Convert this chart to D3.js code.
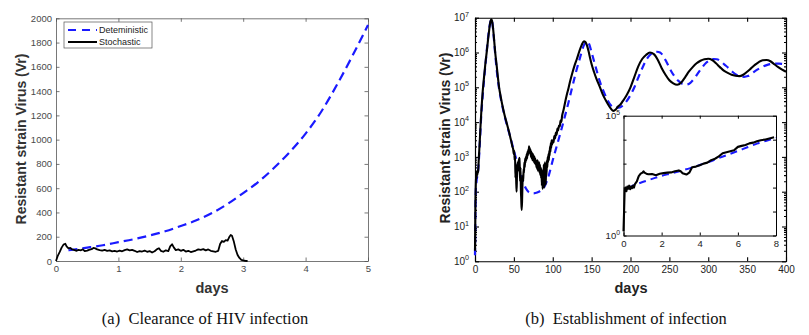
<!DOCTYPE html>
<html>
<head>
<meta charset="utf-8">
<script src="https://cdn.jsdelivr.net/npm/d3@7"></script>
<style>
  body { margin: 0; background: #fff; }
  svg { display: block; }
  text { font-family: "Liberation Sans", Arial, sans-serif; }
</style>
</head>
<body>
<svg id="fig" width="809" height="335"></svg>
<script>
// ---- panel (a): clearance, linear axes ----
const clearXTicks = [0, 1, 2, 3, 4, 5];
const clearYTicks = [0, 200, 400, 600, 800, 1000, 1200, 1400, 1600, 1800, 2000];
const clearDeterministic = [
  [0.2, 88], [0.5, 110], [0.75, 130], [1.0, 155], [1.25, 180], [1.5, 210], [1.75, 245],
  [2.0, 288], [2.25, 335], [2.5, 395], [2.75, 470], [3.0, 560], [3.25, 655], [3.5, 770],
  [3.75, 900], [4.0, 1050], [4.25, 1230], [4.5, 1450], [4.75, 1690], [5.0, 1945]
];
const clearStochastic = [
  [0, 0], [0.03, 45], [0.06, 75], [0.09, 110], [0.12, 135], [0.15, 142], [0.17, 120], [0.2, 104],
  [0.23, 108], [0.26, 95], [0.3, 90], [0.33, 84], [0.36, 92], [0.4, 88], [0.43, 96], [0.46, 82],
  [0.5, 86], [0.53, 92], [0.57, 97], [0.6, 108], [0.63, 104], [0.66, 95], [0.7, 90], [0.74, 86],
  [0.78, 92], [0.82, 84], [0.86, 88], [0.9, 80], [0.94, 84], [0.98, 78], [1.02, 86], [1.06, 80],
  [1.1, 90], [1.14, 96], [1.18, 88], [1.22, 92], [1.26, 84], [1.3, 74], [1.34, 82], [1.38, 78],
  [1.42, 86], [1.46, 76], [1.5, 82], [1.54, 70], [1.58, 80], [1.62, 98], [1.65, 105], [1.68, 84],
  [1.72, 76], [1.76, 88], [1.8, 82], [1.83, 120], [1.86, 138], [1.89, 110], [1.92, 90], [1.96, 96],
  [2.0, 84], [2.04, 92], [2.08, 78], [2.12, 84], [2.16, 74], [2.2, 80], [2.24, 86], [2.28, 96],
  [2.32, 92], [2.36, 98], [2.4, 88], [2.44, 95], [2.48, 84], [2.52, 80], [2.56, 76], [2.6, 84],
  [2.63, 140], [2.66, 165], [2.69, 158], [2.72, 172], [2.75, 168], [2.78, 200], [2.8, 214],
  [2.82, 208], [2.85, 160], [2.88, 95], [2.91, 50], [2.94, 25], [2.97, 10], [3.0, 5], [3.03, 2], [3.07, 0]
];
const legendLabels = ["Deteministic", "Stochastic"];

// ---- panel (b): establishment, log axes ----
const estabXTicks = [0, 50, 100, 150, 200, 250, 300, 350, 400];
const estabDecades = [0, 1, 2, 3, 4, 5, 6, 7];
const estabDeterministic = [
  [0, 1.5], [1, 100], [2, 200], [4, 400], [6, 2000], [8, 1.5e4], [10, 6e4], [12, 2e5], [14, 6e5],
  [16, 1.8e6], [18, 4.5e6], [20, 8e6], [21, 9e6], [22, 8e6], [24, 3e6], [26, 9e5], [28, 3e5],
  [31, 9e4], [35, 3e4], [40, 1e4], [45, 4000], [50, 1500], [55, 600], [60, 250], [65, 130],
  [70, 95], [75, 90], [80, 95], [85, 110], [90, 150], [95, 300], [100, 800], [105, 2000],
  [110, 5000], [115, 1.3e4], [120, 3.5e4], [125, 1e5], [130, 2.8e5], [135, 7e5], [140, 1.6e6],
  [144, 2.1e6], [147, 1.7e6], [150, 1e6], [155, 4e5], [160, 1.6e5], [165, 8e4], [170, 4.5e4],
  [175, 3e4], [180, 2.6e4], [185, 2.6e4], [190, 3e4], [195, 4e4], [200, 6e4], [205, 1e5],
  [210, 1.9e5], [215, 3.5e5], [220, 6e5], [225, 8.5e5], [230, 1e6], [234, 1.05e6], [238, 1e6],
  [242, 8e5], [247, 5e5], [252, 3e5], [257, 2e5], [262, 1.5e5], [267, 1.25e5], [272, 1.2e5],
  [277, 1.35e5], [282, 1.8e5], [287, 2.6e5], [292, 3.7e5], [297, 5e5], [302, 6e5], [307, 6.5e5],
  [311, 6.4e5], [316, 5.6e5], [321, 4.5e5], [326, 3.6e5], [331, 2.8e5], [336, 2.3e5],
  [341, 2.05e5], [346, 2e5], [351, 2.1e5], [356, 2.5e5], [361, 3e5], [366, 3.5e5], [371, 4e5],
  [376, 4.4e5], [381, 4.7e5], [386, 4.8e5], [391, 4.8e5], [396, 4.7e5], [400, 4.6e5]
];
const estabStochastic = [
  [0, 2], [0.5, 40], [1, 150], [1.5, 320], [2, 240], [2.5, 380], [3, 300], [3.5, 420], [4, 350],
  [4.5, 600], [5, 1000], [6, 2500], [7, 7000], [8, 1.8e4], [9, 4e4], [10, 8e4], [11, 1.4e5],
  [12, 2.4e5], [13, 4e5], [14, 6.5e5], [15, 1e6], [16, 1.6e6], [17, 2.6e6], [18, 4e6], [19, 6e6],
  [20, 8e6], [21, 9e6], [22, 8e6], [23, 5.5e6], [24, 3.3e6], [25, 1.8e6], [26, 1e6], [28, 4e5],
  [30, 1.5e5], [31, 1e5], [33, 5.5e4], [35, 3.2e4], [38, 1.6e4], [41, 9000], [44, 5000],
  [46, 3200], [47, 2600], [48, 2000], [49, 1700], [50, 1200], [50.5, 1500], [51, 800],
  [51.5, 1100], [52, 250], [52.5, 600], [53, 200], [53.5, 100], [54, 300], [54.5, 500],
  [55, 700], [55.5, 400], [56, 800], [56.3, 500], [56.6, 900], [57, 700], [57.3, 950], [57.6, 400],
  [58, 200], [58.5, 500], [59, 120], [59.5, 60], [60, 30], [60.5, 50], [61, 150], [61.5, 300],
  [62, 200], [62.5, 450], [63, 350], [63.5, 700], [64, 500], [64.5, 900], [65, 700], [65.5, 1000],
  [66, 800], [66.5, 1200], [67, 900], [67.5, 1400], [68, 1100], [68.5, 1600], [69, 1300],
  [69.5, 2000], [70, 1500], [70.5, 1800], [71, 1200], [71.5, 1600], [72, 1000], [72.5, 1400],
  [73, 900], [73.5, 1300], [74, 800], [74.5, 1200], [75, 900], [75.5, 1100], [76, 700],
  [76.5, 1000], [77, 650], [77.5, 900], [78, 600], [78.5, 800], [79, 500], [79.5, 750], [80, 450],
  [80.5, 800], [81, 400], [81.5, 650], [82, 500], [82.5, 700], [83, 350], [83.5, 600], [84, 300],
  [84.5, 500], [85, 250], [85.5, 450], [86, 150], [86.5, 400], [87, 120], [87.5, 350], [88, 200],
  [88.5, 600], [89, 130], [89.5, 400], [90, 700], [90.5, 250], [91, 160], [91.5, 500], [92, 300],
  [92.5, 800], [93, 500], [93.5, 1000], [94, 700], [94.5, 1200], [95, 800], [95.5, 1500],
  [96, 1100], [96.5, 2000], [97, 1400], [97.5, 2500], [98, 1800], [98.5, 3000], [99, 2200],
  [100, 3000], [101, 2600], [102, 4000], [103, 3400], [104, 5000], [105, 4300], [106, 6500],
  [107, 5800], [108, 8000], [109, 7500], [110, 1.1e4], [111, 1e4], [112, 1.5e4], [114, 2.3e4],
  [116, 3.8e4], [118, 6e4], [120, 9e4], [122, 1.4e5], [125, 2.5e5],
  [128, 4.2e5], [131, 6.5e5], [134, 1.05e6], [137, 1.6e6], [140, 2.1e6], [142, 2e6], [144, 1.6e6],
  [146, 1.1e6], [148, 7e5], [150, 4.6e5], [153, 2.8e5], [156, 1.8e5], [160, 1.1e5], [164, 6.5e4],
  [168, 4.3e4], [172, 3e4], [175, 2.4e4], [178, 2.1e4], [181, 2.3e4], [184, 2.8e4], [187, 3.2e4],
  [190, 4e4], [193, 5e4], [196, 6.5e4], [200, 1e5], [205, 2e5], [210, 4e5], [215, 6.5e5],
  [220, 8.5e5], [225, 1e6], [230, 9e5], [235, 6.2e5], [240, 3.6e5], [245, 2.3e5], [250, 1.6e5],
  [255, 1.3e5], [260, 1.18e5], [265, 1.35e5], [270, 1.9e5], [275, 2.8e5], [280, 3.8e5],
  [285, 4.9e5], [290, 5.8e5], [295, 6.4e5], [300, 6.6e5], [305, 6.1e5], [310, 4.9e5], [315, 3.8e5],
  [320, 3e5], [325, 2.6e5], [330, 2.3e5], [335, 2.15e5], [340, 2.1e5], [345, 2.3e5], [350, 2.8e5],
  [355, 3.5e5], [360, 4.4e5], [365, 5.3e5], [370, 6e5], [375, 6.1e5], [380, 5.6e5], [385, 4.6e5],
  [390, 3.8e5], [395, 3.2e5], [400, 2.8e5]
];

// ---- inset of panel (b): first 8 days ----
const insetXTicks = [0, 2, 4, 6, 8];
const insetDecades = [0, 1, 2, 3, 4, 5];
const insetLabelDecades = [0, 5];
const insetDeterministic = [
  [0.25, 95], [0.5, 120], [1, 170], [1.5, 230], [2, 310], [2.5, 390], [3, 500], [3.5, 650],
  [4, 880], [4.5, 1200], [5, 1700], [5.5, 2400], [6, 3400], [6.5, 4800], [7, 6800], [7.5, 9000], [8, 1.2e4]
];
const insetStochastic = [
  [0, 1.5], [0.03, 10], [0.06, 80], [0.1, 100], [0.15, 70], [0.2, 110], [0.25, 90], [0.3, 120],
  [0.35, 85], [0.4, 110], [0.45, 95], [0.5, 120], [0.55, 100], [0.6, 140], [0.7, 180], [0.8, 300],
  [0.9, 380], [1.0, 420], [1.05, 480], [1.1, 420], [1.2, 380], [1.3, 360], [1.5, 370], [1.7, 330],
  [1.9, 380], [2.1, 400], [2.3, 420], [2.5, 430], [2.7, 480], [2.9, 520], [3.0, 480], [3.1, 400],
  [3.3, 350], [3.45, 420], [3.6, 700], [3.8, 750], [4.0, 850], [4.2, 1000], [4.4, 1100],
  [4.6, 1400], [4.8, 1600], [5.0, 2000], [5.2, 2700], [5.4, 3000], [5.6, 3300], [5.8, 3600],
  [6.0, 5000], [6.2, 5500], [6.4, 6000], [6.6, 7000], [6.8, 7500], [7.0, 8500], [7.2, 9500],
  [7.4, 1e4], [7.6, 1.1e4], [7.8, 1.2e4], [7.9, 1.25e4]
];

const captions = ["(a)  Clearance of HIV infection", "(b)  Establishment of infection"];

const BLUE = "#1a1aff";
const svg = d3.select("#fig");

function boxAxes(g, x, y, o) {
  const [xa, xb] = x.range(), [ya, yb] = y.range();
  const bottom = g.append("g").attr("transform", `translate(0,${ya})`)
    .call(d3.axisBottom(x).tickValues(o.xTicks).tickSize(-o.tick).tickSizeOuter(0)
      .tickPadding(o.xPad).tickFormat(o.xFormat || d3.format("d")));
  g.append("g").attr("transform", `translate(0,${yb})`)
    .call(d3.axisTop(x).tickValues(o.xTicks).tickSize(-o.tick).tickSizeOuter(0).tickFormat(""));
  const left = g.append("g").attr("transform", `translate(${xa},0)`)
    .call(d3.axisLeft(y).tickValues(o.yTicks).tickSize(-o.tick).tickSizeOuter(0)
      .tickPadding(o.yPad).tickFormat(o.yFormat || ""));
  g.append("g").attr("transform", `translate(${xb},0)`)
    .call(d3.axisRight(y).tickValues(o.yTicks).tickSize(-o.tick).tickSizeOuter(0).tickFormat(""));
  if (o.minor) {
    g.append("g").attr("transform", `translate(${xa},0)`)
      .call(d3.axisLeft(y).tickValues(o.minor).tickSize(-o.tick / 2).tickSizeOuter(0).tickFormat(""));
    g.append("g").attr("transform", `translate(${xb},0)`)
      .call(d3.axisRight(y).tickValues(o.minor).tickSize(-o.tick / 2).tickSizeOuter(0).tickFormat(""));
  }
  g.selectAll(".domain").attr("stroke", o.line).attr("stroke-width", o.width);
  g.selectAll(".tick line").attr("stroke", o.line).attr("stroke-width", o.width);
  g.selectAll(".tick text").attr("fill", o.text).style("font-size", o.fontSize + "px");
  return { bottom, left };
}

function powLabels(g, y, x0, decades, size) {
  decades.forEach(p => {
    const t = g.append("text")
      .attr("x", x0).attr("y", y(Math.pow(10, p)))
      .attr("dy", "0.36em").attr("text-anchor", "end")
      .attr("fill", "#222").style("font-size", size + "px");
    t.append("tspan").text("10");
    t.append("tspan").attr("dy", -size * 0.45).style("font-size", (size * 0.72) + "px").text(p);
  });
}

// ================= panel (a) =================
{
  const g = svg.append("g");
  const x = d3.scaleLinear().domain([0, 5]).range([56, 368]);
  const y = d3.scaleLinear().domain([0, 2000]).range([261, 18.3]);

  boxAxes(g, x, y, {
    xTicks: clearXTicks, yTicks: clearYTicks, tick: 3.5, xPad: 4, yPad: 4,
    yFormat: d3.format("d"), line: "#555", width: 0.8, text: "#4a4a4a", fontSize: 9.5
  });

  const line = d3.line().x(d => x(d[0])).y(d => y(d[1]));
  g.append("path").datum(clearDeterministic)
    .attr("d", line.curve(d3.curveMonotoneX)).attr("fill", "none")
    .attr("stroke", BLUE).attr("stroke-width", 2.2).attr("stroke-dasharray", "9,5");
  g.append("path").datum(clearStochastic)
    .attr("d", d3.line().x(d => x(d[0])).y(d => y(d[1]))).attr("fill", "none")
    .attr("stroke", "#000").attr("stroke-width", 1.8).attr("stroke-linejoin", "round");

  // legend
  const lg = g.append("g").attr("transform", "translate(64,22)");
  lg.append("rect").attr("width", 88).attr("height", 26)
    .attr("fill", "#fff").attr("stroke", "#555").attr("stroke-width", 0.7);
  legendLabels.forEach((name, i) => {
    const yy = 8 + i * 12;
    lg.append("line").attr("x1", 4).attr("x2", 33).attr("y1", yy).attr("y2", yy)
      .attr("stroke", i === 0 ? BLUE : "#000").attr("stroke-width", 2)
      .attr("stroke-dasharray", i === 0 ? "8,6" : null);
    lg.append("text").attr("x", 35).attr("y", yy).attr("dy", "0.35em")
      .style("font-size", "9px").attr("fill", "#222").text(name);
  });

  g.append("text").attr("transform", "translate(21,139) rotate(-90)")
    .attr("text-anchor", "middle").attr("dy", "0.35em")
    .style("font-size", "14px").style("font-weight", "bold").attr("fill", "#333")
    .text("Resistant strain Virus (Vr)");
  g.append("text").attr("x", 212).attr("y", 293).attr("text-anchor", "middle")
    .style("font-size", "14.5px").style("font-weight", "bold").attr("fill", "#333").text("days");
}

// ================= panel (b) =================
{
  const g = svg.append("g");
  const x = d3.scaleLinear().domain([0, 400]).range([475, 786]);
  const y = d3.scaleLog().domain([1, 1e7]).range([261.3, 17.7]);
  const majors = estabDecades.map(p => Math.pow(10, p));
  const minors = y.ticks().filter(v => !majors.includes(v));

  boxAxes(g, x, y, {
    xTicks: estabXTicks, yTicks: majors, minor: minors, tick: 4, xPad: 5, yPad: 6,
    line: "#000", width: 1.1, text: "#222", fontSize: 10
  });
  powLabels(g, y, 469, estabDecades, 10);

  const line = d3.line().x(d => x(d[0])).y(d => y(d[1])).curve(d3.curveMonotoneX);
  g.append("path").datum(estabDeterministic).attr("d", line).attr("fill", "none")
    .attr("stroke", BLUE).attr("stroke-width", 2.2).attr("stroke-dasharray", "7,5");
  g.append("path").datum(estabStochastic).attr("d", line).attr("fill", "none")
    .attr("stroke", "#000").attr("stroke-width", 2.1).attr("stroke-linejoin", "round");

  // inset
  const ig = g.append("g");
  const ix = d3.scaleLinear().domain([0, 8]).range([623.5, 776]);
  const iy = d3.scaleLog().domain([1, 1e5]).range([235.5, 115.7]);
  ig.append("rect").attr("x", 623.5).attr("y", 115.7).attr("width", 152.5).attr("height", 119.8)
    .attr("fill", "#fff");
  boxAxes(ig, ix, iy, {
    xTicks: insetXTicks, yTicks: insetDecades.map(p => Math.pow(10, p)), tick: 3, xPad: 5, yPad: 4,
    line: "#000", width: 1, text: "#222", fontSize: 9.5
  });
  powLabels(ig, iy, 620, insetLabelDecades, 9.5);

  const iline = d3.line().x(d => ix(d[0])).y(d => iy(d[1]));
  ig.append("path").datum(insetDeterministic).attr("d", iline.curve(d3.curveMonotoneX))
    .attr("fill", "none").attr("stroke", BLUE).attr("stroke-width", 2).attr("stroke-dasharray", "7,5");
  ig.append("path").datum(insetStochastic).attr("d", d3.line().x(d => ix(d[0])).y(d => iy(d[1])))
    .attr("fill", "none").attr("stroke", "#000").attr("stroke-width", 2.1).attr("stroke-linejoin", "round");

  g.append("text").attr("transform", "translate(445,138) rotate(-90)")
    .attr("text-anchor", "middle").attr("dy", "0.35em")
    .style("font-size", "14px").style("font-weight", "bold").attr("fill", "#222")
    .text("Resistant strain Virus (Vr)");
  g.append("text").attr("x", 631).attr("y", 293).attr("text-anchor", "middle")
    .style("font-size", "14.5px").style("font-weight", "bold").attr("fill", "#222").text("days");
}

// captions
svg.selectAll("text.caption").data(captions).join("text")
  .attr("class", "caption")
  .attr("x", (d, i) => i === 0 ? 205 : 626)
  .attr("y", 324)
  .attr("text-anchor", "middle")
  .style("font-family", "'Liberation Serif', 'Times New Roman', serif")
  .style("font-size", "16.5px")
  .style("white-space", "pre")
  .attr("fill", "#111")
  .text(d => d);
</script>
</body>
</html>
